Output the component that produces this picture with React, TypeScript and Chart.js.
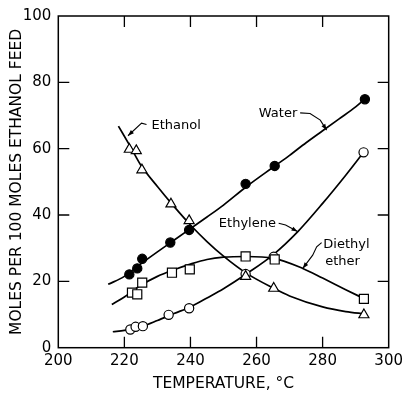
import React, { useEffect, useRef } from "react";
import { Chart, registerables } from "chart.js";

Chart.register(...registerables);

// ---- Data ----
const TEMP_WATER = [221.5, 223.9, 225.4, 233.9, 239.6, 256.7, 265.5, 292.8];
const MOLES_WATER = [22.1, 23.9, 26.8, 31.7, 35.5, 49.4, 54.8, 74.9];

const TEMP_ETHANOL = [221.5, 223.6, 225.3, 234.1, 239.6, 256.7, 265.2, 292.5];
const MOLES_ETHANOL = [59.8, 59.4, 53.6, 43.3, 38.3, 21.5, 17.9, 9.9];

const TEMP_ETHER = [222.3, 223.9, 225.4, 234.4, 239.8, 256.7, 265.5, 292.5];
const MOLES_ETHER = [16.6, 16.1, 19.6, 22.6, 23.6, 27.5, 26.6, 14.7];

const TEMP_ETHYLENE = [221.8, 223.4, 225.6, 233.4, 239.6, 256.7, 265.2, 292.4];
const MOLES_ETHYLENE = [5.5, 6.3, 6.5, 9.9, 11.9, 22.2, 27.4, 58.9];

// smooth fitted curves
const CURVE_WATER_X = [215.1, 220, 225, 230, 235, 240, 245, 250, 257, 265, 270, 275, 280, 285, 290, 292.8];
const CURVE_WATER_Y = [19.1, 21.5, 25.3, 28.9, 32.4, 35.9, 39.4, 43.0, 48.6, 54.4, 58.0, 61.8, 65.4, 69.0, 72.6, 75.0];

const CURVE_ETHANOL_X = [218.2, 222, 225, 230, 235, 240, 245, 250, 257, 265, 270, 280, 287, 292.8];
const CURVE_ETHANOL_Y = [66.8, 60.3, 55.0, 48.6, 42.6, 37.0, 32.0, 27.6, 22.4, 18.0, 15.6, 12.3, 10.9, 10.2];

const CURVE_ETHER_X = [216.2, 220, 225, 230, 235, 240, 245, 250, 257, 265, 274, 280, 287, 292.5];
const CURVE_ETHER_Y = [13.0, 15.3, 18.8, 21.5, 23.5, 25.2, 26.6, 27.3, 27.5, 27.0, 23.9, 21.0, 17.5, 14.8];

const CURVE_ETHYLENE_X = [216.5, 220, 225, 230, 235, 240, 245, 250, 257, 265, 272.5, 280, 287, 292.4];
const CURVE_ETHYLENE_Y = [4.8, 5.2, 6.3, 8.2, 10.3, 12.3, 15.0, 17.8, 22.3, 28.0, 35.0, 43.5, 52.0, 58.9];

const X_TICKS = [200, 220, 240, 260, 280, 300];
const Y_TICKS = [0, 20, 40, 60, 80, 100];

const X_TITLE = "TEMPERATURE, °C";
const Y_TITLE = "MOLES PER 100 MOLES ETHANOL FEED";

// label annotations (anchors in data units)
const LABELS = [
  { lines: ["Ethanol"], x: 228.2, y: 67.1, leader: [[226.7, 67.3], [225.2, 67.7], [221.1, 63.9]] },
  { lines: ["Water"], x: 260.7, y: 70.7, leader: [[273.2, 70.8], [276.2, 70.6], [279.3, 68.6], [281.2, 65.6]] },
  { lines: ["Ethylene"], x: 248.6, y: 37.5, leader: [[266.7, 37.5], [268.8, 37.0], [272.4, 35.0]] },
  { lines: ["Diethyl", "ether"], x: 280.2, y: 31.0, leader: [[279.7, 31.7], [278.2, 30.4], [277.0, 27.9], [274.0, 23.9]] },
];

const FONT = '"DejaVu Sans", sans-serif';

const zip = (xs: number[], ys: number[]) => xs.map((x, i) => ({ x, y: ys[i] }));

const framePlugin = {
  id: "frameAndLabels",
  afterDatasetsDraw(chart: any) {
    const { ctx, chartArea: a, scales } = chart;
    const xs = scales.x;
    const ys = scales.y;
    ctx.save();
    ctx.strokeStyle = "#000";
    ctx.lineWidth = 1.5;
    ctx.strokeRect(a.left, a.top, a.right - a.left, a.bottom - a.top);
    const tl = 11;
    ctx.lineWidth = 1.3;
    ctx.beginPath();
    X_TICKS.slice(1, -1).forEach((v) => {
      const px = xs.getPixelForValue(v);
      ctx.moveTo(px, a.bottom);
      ctx.lineTo(px, a.bottom - tl);
      ctx.moveTo(px, a.top);
      ctx.lineTo(px, a.top + tl);
    });
    Y_TICKS.slice(1, -1).forEach((v) => {
      const py = ys.getPixelForValue(v);
      ctx.moveTo(a.left, py);
      ctx.lineTo(a.left + tl, py);
      ctx.moveTo(a.right, py);
      ctx.lineTo(a.right - tl, py);
    });
    ctx.stroke();

    // labels + leaders
    ctx.fillStyle = "#000";
    ctx.font = `13px ${FONT}`;
    ctx.textAlign = "left";
    ctx.textBaseline = "middle";
    LABELS.forEach((lab) => {
      const tx = xs.getPixelForValue(lab.x);
      const ty = ys.getPixelForValue(lab.y);
      lab.lines.forEach((t, i) => ctx.fillText(t, tx + (i > 0 ? 2 : 0), ty + i * 16.5));
      const pts = lab.leader.map(([x, y]) => [xs.getPixelForValue(x), ys.getPixelForValue(y)]);
      ctx.lineWidth = 1.1;
      ctx.beginPath();
      pts.forEach(([px, py], i) => (i === 0 ? ctx.moveTo(px, py) : ctx.lineTo(px, py)));
      ctx.stroke();
      const [ex, ey] = pts[pts.length - 1];
      const [bx, by] = pts[pts.length - 2];
      const ang = Math.atan2(ey - by, ex - bx);
      const L = 6, W = 2.2;
      ctx.beginPath();
      ctx.moveTo(ex, ey);
      ctx.lineTo(ex - L * Math.cos(ang) + W * Math.sin(ang), ey - L * Math.sin(ang) - W * Math.cos(ang));
      ctx.lineTo(ex - L * Math.cos(ang) - W * Math.sin(ang), ey - L * Math.sin(ang) + W * Math.cos(ang));
      ctx.closePath();
      ctx.fill();
    });
    ctx.restore();
  },
};

export default function App() {
  const ref = useRef<HTMLCanvasElement | null>(null);
  useEffect(() => {
    if (!ref.current) return;
    const marker = (data: any, style: string, r: number, fill: string) => ({
      data,
      showLine: false,
      pointStyle: style,
      pointRadius: r,
      pointBackgroundColor: fill,
      pointBorderColor: "#000",
      pointBorderWidth: 1.2,
    });
    const curve = (data: any) => ({
      data,
      showLine: true,
      pointRadius: 0,
      borderColor: "#000",
      borderWidth: 1.7,
      cubicInterpolationMode: "monotone",
      fill: false,
    });
    const chart = new Chart(ref.current, {
      type: "scatter",
      data: {
        datasets: [
          marker(zip(TEMP_WATER, MOLES_WATER), "circle", 4.6, "#000"),
          marker(zip(TEMP_ETHANOL, MOLES_ETHANOL), "triangle", 5.8, "#fff"),
          marker(zip(TEMP_ETHER, MOLES_ETHER), "rect", 6.4, "#fff"),
          marker(zip(TEMP_ETHYLENE, MOLES_ETHYLENE), "circle", 4.6, "#fff"),
          curve(zip(CURVE_WATER_X, CURVE_WATER_Y)),
          curve(zip(CURVE_ETHANOL_X, CURVE_ETHANOL_Y)),
          curve(zip(CURVE_ETHER_X, CURVE_ETHER_Y)),
          curve(zip(CURVE_ETHYLENE_X, CURVE_ETHYLENE_Y)),
        ] as any,
      },
      options: {
        animation: false,
        responsive: false,
        devicePixelRatio: 1,
        layout: { padding: { top: 16, right: 16.3, left: 0, bottom: 0 } },
        plugins: { legend: { display: false }, tooltip: { enabled: false } },
        scales: {
          x: {
            type: "linear",
            min: 200,
            max: 300,
            afterBuildTicks: (s: any) => { s.ticks = X_TICKS.map((v) => ({ value: v })); },
            afterFit: (s: any) => { s.height = 45.3; },
            grid: { display: false, drawTicks: false },
            border: { display: false },
            ticks: { color: "#000", font: { family: FONT, size: 15 }, padding: 4, maxRotation: 0 },
            title: { display: true, text: X_TITLE, color: "#000", font: { family: FONT, size: 15.5 }, padding: { top: 0, bottom: 0 } },
          },
          y: {
            type: "linear",
            min: 0,
            max: 100,
            afterBuildTicks: (s: any) => { s.ticks = Y_TICKS.map((v) => ({ value: v })); },
            afterFit: (s: any) => { s.width = 58.3; },
            grid: { display: false, drawTicks: false },
            border: { display: false },
            ticks: { color: "#000", font: { family: FONT, size: 15 }, padding: 7 },
            title: { display: true, text: Y_TITLE, color: "#000", font: { family: FONT, size: 15.5 }, padding: { top: 8, bottom: 0 } },
          },
        },
      } as any,
      plugins: [framePlugin],
    });
    return () => chart.destroy();
  }, []);
  return (
    <div style={{ position: "absolute", left: 0, top: 0, width: 407, height: 393, background: "#fff" }}>
      <canvas ref={ref} width={407} height={393} />
    </div>
  );
}
